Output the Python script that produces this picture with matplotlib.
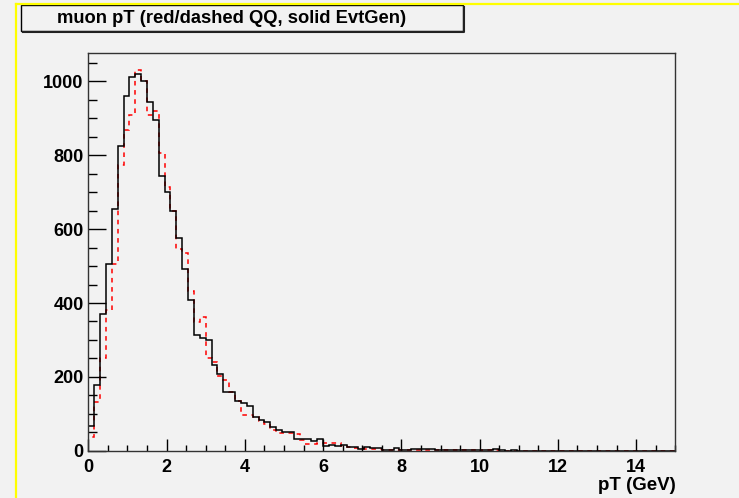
import numpy as np
import matplotlib
matplotlib.use('Agg')
import matplotlib.pyplot as plt
from matplotlib.patches import Rectangle
from matplotlib.lines import Line2D

# 100 bins from 0 to 15 GeV
pt_min, pt_max, n_bins = 0, 15, 100

evtgen = [68, 178, 371, 505, 654, 824, 961, 1013, 1019, 1001,
          945, 895, 743, 700, 650, 577, 491, 408, 313, 305,
          300, 233, 207, 160, 160, 135, 130, 121, 90, 83,
          78, 65, 56, 50, 50, 31, 31, 31, 25, 33,
          13, 16, 13, 16, 9, 9, 5, 9, 7, 7,
          2, 3, 7, 3, 3, 4, 4, 4, 4, 2,
          1, 1, 1, 1, 2, 1, 1, 1, 1, 4,
          1, 0, 1, 0, 0, 0, 0, 0, 0, 0,
          0, 0, 0, 0, 0, 0, 0, 0, 0, 0,
          0, 0, 0, 0, 0, 0, 0, 0, 0, 0]

qq = [38, 133, 251, 382, 505, 774, 868, 908, 1031, 1000,
      908, 920, 806, 713, 650, 546, 535, 432, 348, 361,
      251, 240, 201, 192, 158, 135, 97, 97, 90, 81,
      71, 55, 47, 47, 47, 45, 29, 18, 19, 21,
      20, 20, 20, 14, 9, 8, 6, 5, 5, 5,
      3, 3, 3, 2, 2, 2, 2, 2, 2, 1,
      1, 1, 2, 2, 1, 1, 0, 1, 2, 3,
      0, 0, 0, 0, 0, 0, 0, 0, 0, 0,
      0, 0, 0, 0, 0, 0, 0, 0, 0, 0,
      0, 0, 0, 0, 0, 0, 0, 0, 0, 0]

title = 'muon pT (red/dashed QQ, solid EvtGen)'
x_label = 'pT (GeV)'

plt.rcParams['font.family'] = ['Liberation Sans', 'DejaVu Sans']
bg = '#f2f2f2'
W, H = 739, 498

fig = plt.figure(figsize=(W / 100, H / 100), dpi=100, facecolor=bg)
ax = fig.add_axes([88.3 / W, 1 - 450.7 / H, (675.3 - 88.3) / W, (450.7 - 52.7) / H])
ax.set_facecolor(bg)

edges = np.linspace(pt_min, pt_max, n_bins + 1)
ax.stairs(qq, edges, color='red', linestyle=(0, (3, 3)), linewidth=1.1)
ax.stairs(evtgen, edges, color='black', linewidth=1.1)

ax.set_xlim(pt_min, pt_max)
ax.set_ylim(0, 1078)
ax.set_xticks(np.arange(0, 15, 2))
ax.set_xticks(np.arange(0, 15.01, 0.5), minor=True)
ax.set_yticks(np.arange(0, 1001, 200))
ax.set_yticks(np.arange(0, 1051, 50), minor=True)
ax.tick_params(direction='in', which='both', top=False, right=False, width=1)
ax.tick_params(axis='x', which='major', length=8.6, pad=6)
ax.tick_params(axis='x', which='minor', length=4.3)
ax.tick_params(axis='y', which='major', length=13, pad=3.4)
ax.tick_params(axis='y', which='minor', length=6.5)
for lab in ax.get_xticklabels() + ax.get_yticklabels():
    lab.set_fontsize(13)
    lab.set_fontweight('bold')
for sp in ax.spines.values():
    sp.set_linewidth(1)
    sp.set_color('#333333')

fig.text(676 / W, 1 - 485.5 / H, x_label, ha='right', va='center',
         fontsize=13.5, fontweight='bold')

# yellow pad border (top and left)
fig.add_artist(Line2D([15.5 / W, 1], [1 - 4 / H, 1 - 4 / H], color='#ffff00', lw=1.6))
fig.add_artist(Line2D([15.5 / W, 15.5 / W], [0, 1 - 4 / H], color='#ffff00', lw=1.6))

# title box with shadow
bx0, bx1, by0, by1 = 21, 463, 5, 31
fig.add_artist(Line2D([(bx0 + 2) / W, (bx1 + 1.5) / W, (bx1 + 1.5) / W],
                      [1 - (by1 + 1.5) / H, 1 - (by1 + 1.5) / H, 1 - (by0 + 2) / H],
                      color='#222222', lw=1.5))
fig.add_artist(Rectangle((bx0 / W, 1 - by1 / H), (bx1 - bx0) / W, (by1 - by0) / H,
                         transform=fig.transFigure, facecolor=bg, edgecolor='black', lw=1))
fig.text(57 / W, 1 - 18.5 / H, title, ha='left', va='center',
         fontsize=13.2, fontweight='bold')

fig.savefig('out.png', dpi=100, facecolor=bg)
